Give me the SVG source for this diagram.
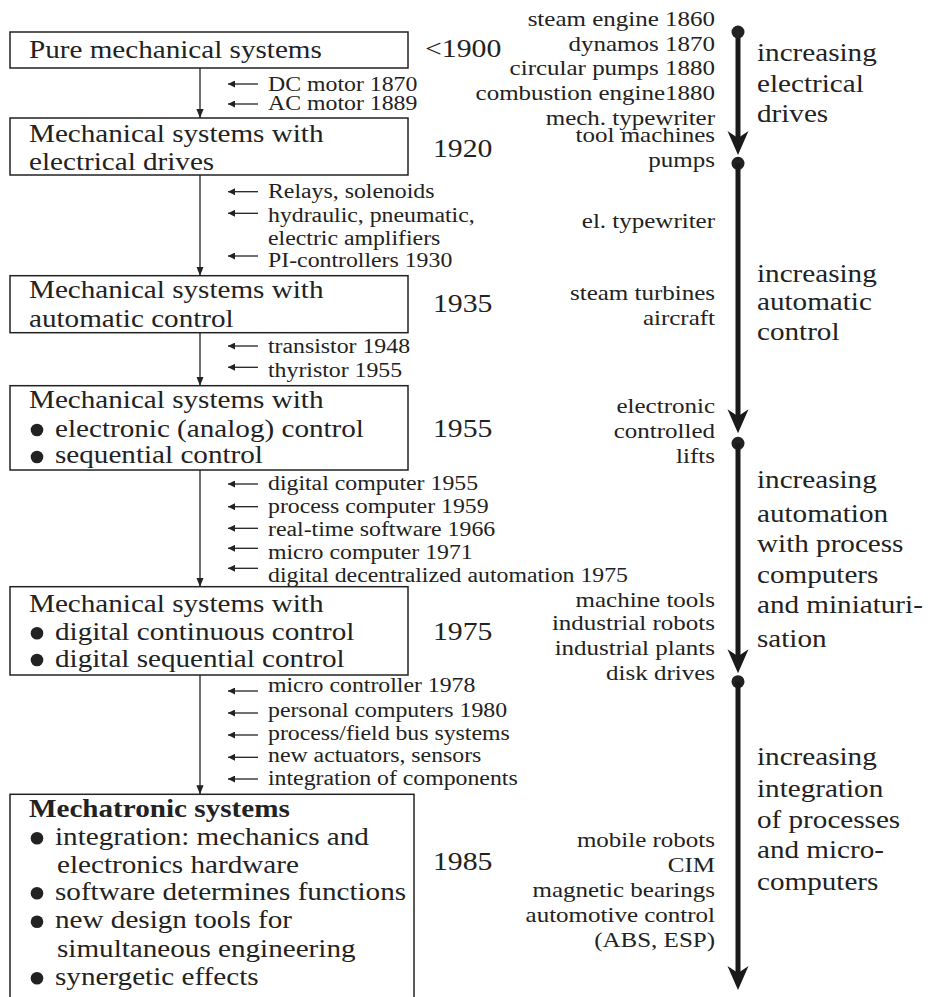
<svg xmlns="http://www.w3.org/2000/svg" width="928" height="997" viewBox="0 0 928 997" font-family="Liberation Serif, Times New Roman, serif">
<defs>
<style>
text{font-family:Liberation Serif, Times New Roman, serif;fill:#222}
.e{text-anchor:end}
.big{font-size:24.5px}
.yr{font-size:25px}
.sm{font-size:20px}
.rs{font-size:21px}
.lab{font-size:24.5px}
.b{font-weight:bold}
.box{fill:none;stroke:#222;stroke-width:1.5}
.dot{fill:#222}
.vline{stroke:#222;stroke-width:1.3;fill:none}
.hline{stroke:#222;stroke-width:1.3;fill:none}
.thick{stroke:#1a1a1a;stroke-width:5;fill:none}
.head{fill:#1a1a1a}
</style>
<marker id="ad" viewBox="0 0 10 10" refX="10" refY="5" markerWidth="9" markerHeight="9" markerUnits="userSpaceOnUse" orient="auto">
<path d="M0,1 L10,5 L0,9 Z" fill="#222"/>
</marker>
<marker id="al" viewBox="0 0 10 10" refX="10" refY="5" markerWidth="10" markerHeight="7" markerUnits="userSpaceOnUse" orient="auto">
<path d="M0,0 L10,5 L0,10 Z" fill="#222"/>
</marker>
</defs>
<rect width="928" height="997" fill="#fff"/>

<g id="connectors">
<line class="vline" x1="200" y1="68" x2="200" y2="118" marker-end="url(#ad)"/>
<line class="vline" x1="200" y1="175" x2="200" y2="275.7" marker-end="url(#ad)"/>
<line class="vline" x1="200" y1="332.7" x2="200" y2="385.7" marker-end="url(#ad)"/>
<line class="vline" x1="200" y1="470" x2="200" y2="586.7" marker-end="url(#ad)"/>
<line class="vline" x1="200" y1="675" x2="200" y2="794.3" marker-end="url(#ad)"/>
<g id="inputs">
<line class="hline" x1="258" y1="84" x2="228" y2="84" marker-end="url(#al)"/>
<line class="hline" x1="258" y1="104" x2="228" y2="104" marker-end="url(#al)"/>
<line class="hline" x1="258" y1="191.7" x2="228" y2="191.7" marker-end="url(#al)"/>
<line class="hline" x1="258" y1="213.3" x2="228" y2="213.3" marker-end="url(#al)"/>
<line class="hline" x1="258" y1="256" x2="228" y2="256" marker-end="url(#al)"/>
<line class="hline" x1="258" y1="346" x2="228" y2="346" marker-end="url(#al)"/>
<line class="hline" x1="258" y1="367.3" x2="228" y2="367.3" marker-end="url(#al)"/>
<line class="hline" x1="258" y1="484" x2="228" y2="484" marker-end="url(#al)"/>
<line class="hline" x1="258" y1="506.7" x2="228" y2="506.7" marker-end="url(#al)"/>
<line class="hline" x1="258" y1="528.3" x2="228" y2="528.3" marker-end="url(#al)"/>
<line class="hline" x1="258" y1="548.3" x2="228" y2="548.3" marker-end="url(#al)"/>
<line class="hline" x1="258" y1="568.3" x2="228" y2="568.3" marker-end="url(#al)"/>
<line class="hline" x1="258" y1="691" x2="228" y2="691" marker-end="url(#al)"/>
<line class="hline" x1="258" y1="713" x2="228" y2="713" marker-end="url(#al)"/>
<line class="hline" x1="258" y1="735" x2="228" y2="735" marker-end="url(#al)"/>
<line class="hline" x1="258" y1="757.3" x2="228" y2="757.3" marker-end="url(#al)"/>
<line class="hline" x1="258" y1="779" x2="228" y2="779" marker-end="url(#al)"/>
</g>
<g id="timeline">
<line class="thick" x1="738" y1="32" x2="738" y2="140"/>
<path class="head" d="M738,155 L727.5,131 L738,138 L748.5,131 Z"/>
<circle class="dot" cx="738" cy="32" r="6.5"/>
<circle class="dot" cx="738" cy="163.3" r="6.5"/>
<line class="thick" x1="738" y1="163.3" x2="738" y2="418"/>
<path class="head" d="M738,433.3 L727.5,409.3 L738,416.3 L748.5,409.3 Z"/>
<circle class="dot" cx="738" cy="443.3" r="6.5"/>
<line class="thick" x1="738" y1="443.3" x2="738" y2="658"/>
<path class="head" d="M738,673.3 L727.5,649.3 L738,656.3 L748.5,649.3 Z"/>
<circle class="dot" cx="738" cy="681.7" r="6.5"/>
<line class="thick" x1="738" y1="681.7" x2="738" y2="975"/>
<path class="head" d="M738,990 L727.5,966 L738,973 L748.5,966 Z"/>
</g>
</g>

<g id="input-labels">
<text class="sm" transform="translate(268 90.7) scale(1.19 1)">DC motor 1870</text>
<text class="sm" transform="translate(268 110) scale(1.19 1)">AC motor 1889</text>
<text class="sm" transform="translate(268 198.3) scale(1.19 1)">Relays, solenoids</text>
<text class="sm" transform="translate(268 221.7) scale(1.19 1)">hydraulic, pneumatic,</text>
<text class="sm" transform="translate(268 245) scale(1.19 1)">electric amplifiers</text>
<text class="sm" transform="translate(268 266.7) scale(1.19 1)">PI-controllers 1930</text>
<text class="sm" transform="translate(268 353.3) scale(1.19 1)">transistor 1948</text>
<text class="sm" transform="translate(268 376.7) scale(1.19 1)">thyristor 1955</text>
<text class="sm" transform="translate(268 490) scale(1.19 1)">digital computer 1955</text>
<text class="sm" transform="translate(268 512.7) scale(1.19 1)">process computer 1959</text>
<text class="sm" transform="translate(268 536) scale(1.19 1)">real-time software 1966</text>
<text class="sm" transform="translate(268 559) scale(1.19 1)">micro computer 1971</text>
<text class="sm" transform="translate(268 581.7) scale(1.19 1)">digital decentralized automation 1975</text>
<text class="sm" transform="translate(268 691.7) scale(1.19 1)">micro controller 1978</text>
<text class="sm" transform="translate(268 716.7) scale(1.19 1)">personal computers 1980</text>
<text class="sm" transform="translate(268 740) scale(1.19 1)">process/field bus systems</text>
<text class="sm" transform="translate(268 761.7) scale(1.19 1)">new actuators, sensors</text>
<text class="sm" transform="translate(268 785) scale(1.19 1)">integration of components</text>
</g>

<g id="node-pure">
<rect class="box" x="10" y="32" width="398" height="36"/>
<text class="big" transform="translate(29 58) scale(1.19 1)">Pure mechanical systems</text>
<text class="yr" transform="translate(425 57) scale(1.19 1)">&lt;1900</text>
</g>

<g id="node-electrical">
<rect class="box" x="10" y="118" width="398" height="57"/>
<text class="big" transform="translate(29 141.7) scale(1.19 1)">Mechanical systems with</text>
<text class="big" transform="translate(29 170) scale(1.19 1)">electrical drives</text>
<text class="yr" transform="translate(433 156.7) scale(1.19 1)">1920</text>
</g>

<g id="node-automatic">
<rect class="box" x="10" y="275.7" width="398" height="57"/>
<text class="big" transform="translate(29 298.3) scale(1.19 1)">Mechanical systems with</text>
<text class="big" transform="translate(29 326.7) scale(1.19 1)">automatic control</text>
<text class="yr" transform="translate(433 311.7) scale(1.19 1)">1935</text>
</g>

<g id="node-analog">
<rect class="box" x="10" y="385.7" width="398" height="84.3"/>
<text class="big" transform="translate(29 408.3) scale(1.19 1)">Mechanical systems with</text>
<circle class="dot" cx="37" cy="430" r="6.3"/>
<text class="big" transform="translate(55 436.7) scale(1.19 1)">electronic (analog) control</text>
<circle class="dot" cx="37" cy="457" r="6.3"/>
<text class="big" transform="translate(55 463.3) scale(1.19 1)">sequential control</text>
<text class="yr" transform="translate(433 436.7) scale(1.19 1)">1955</text>
</g>

<g id="node-digital">
<rect class="box" x="10" y="586.7" width="398" height="88.3"/>
<text class="big" transform="translate(29 611.7) scale(1.19 1)">Mechanical systems with</text>
<circle class="dot" cx="37" cy="633.3" r="6.3"/>
<text class="big" transform="translate(55 640) scale(1.19 1)">digital continuous control</text>
<circle class="dot" cx="37" cy="660" r="6.3"/>
<text class="big" transform="translate(55 666.7) scale(1.19 1)">digital sequential control</text>
<text class="yr" transform="translate(433 640) scale(1.19 1)">1975</text>
</g>

<g id="node-mechatronic">
<rect class="box" x="10" y="794.3" width="404" height="220"/>
<text class="big b" transform="translate(29 816.7) scale(1.19 1)">Mechatronic systems</text>
<circle class="dot" cx="37" cy="838.3" r="6.3"/>
<text class="big" transform="translate(55 845) scale(1.19 1)">integration: mechanics and</text>
<text class="big" transform="translate(57 872.7) scale(1.19 1)">electronics hardware</text>
<circle class="dot" cx="37" cy="893.3" r="6.3"/>
<text class="big" transform="translate(55 900) scale(1.19 1)">software determines functions</text>
<circle class="dot" cx="37" cy="921.7" r="6.3"/>
<text class="big" transform="translate(55 928.3) scale(1.19 1)">new design tools for</text>
<text class="big" transform="translate(57 956.7) scale(1.19 1)">simultaneous engineering</text>
<circle class="dot" cx="37" cy="978.3" r="6.3"/>
<text class="big" transform="translate(55 985) scale(1.19 1)">synergetic effects</text>
<text class="yr" transform="translate(433 870) scale(1.19 1)">1985</text>
</g>

<g id="applications">
<text class="rs e" transform="translate(715 25.7) scale(1.19 1)">steam engine 1860</text>
<text class="rs e" transform="translate(715 50.7) scale(1.19 1)">dynamos 1870</text>
<text class="rs e" transform="translate(715 75) scale(1.19 1)">circular pumps 1880</text>
<text class="rs e" transform="translate(715 100) scale(1.19 1)">combustion engine1880</text>
<text class="rs e" transform="translate(715 125) scale(1.19 1)">mech. typewriter</text>
<text class="rs e" transform="translate(715 141.7) scale(1.19 1)">tool machines</text>
<text class="rs e" transform="translate(715 166.7) scale(1.19 1)">pumps</text>
<text class="rs e" transform="translate(715 228.3) scale(1.19 1)">el. typewriter</text>
<text class="rs e" transform="translate(715 300) scale(1.19 1)">steam turbines</text>
<text class="rs e" transform="translate(715 325) scale(1.19 1)">aircraft</text>
<text class="rs e" transform="translate(715 413.3) scale(1.19 1)">electronic</text>
<text class="rs e" transform="translate(715 438.3) scale(1.19 1)">controlled</text>
<text class="rs e" transform="translate(715 463.3) scale(1.19 1)">lifts</text>
<text class="rs e" transform="translate(715 606.7) scale(1.19 1)">machine tools</text>
<text class="rs e" transform="translate(715 630) scale(1.19 1)">industrial robots</text>
<text class="rs e" transform="translate(715 655) scale(1.19 1)">industrial plants</text>
<text class="rs e" transform="translate(715 680) scale(1.19 1)">disk drives</text>
<text class="rs e" transform="translate(715 846.7) scale(1.19 1)">mobile robots</text>
<text class="rs e" transform="translate(715 871.7) scale(1.19 1)">CIM</text>
<text class="rs e" transform="translate(715 896.7) scale(1.19 1)">magnetic bearings</text>
<text class="rs e" transform="translate(715 921.7) scale(1.19 1)">automotive control</text>
<text class="rs e" transform="translate(715 946.7) scale(1.19 1)">(ABS, ESP)</text>
</g>

<g id="phase-labels">
<text class="lab" transform="translate(757 61) scale(1.19 1)">increasing</text>
<text class="lab" transform="translate(757 91.7) scale(1.19 1)">electrical</text>
<text class="lab" transform="translate(757 121.7) scale(1.19 1)">drives</text>
<text class="lab" transform="translate(757 281.7) scale(1.19 1)">increasing</text>
<text class="lab" transform="translate(757 310) scale(1.19 1)">automatic</text>
<text class="lab" transform="translate(757 340) scale(1.19 1)">control</text>
<text class="lab" transform="translate(757 488.3) scale(1.19 1)">increasing</text>
<text class="lab" transform="translate(757 521.7) scale(1.19 1)">automation</text>
<text class="lab" transform="translate(757 551.7) scale(1.19 1)">with process</text>
<text class="lab" transform="translate(757 583.3) scale(1.19 1)">computers</text>
<text class="lab" transform="translate(757 613.3) scale(1.19 1)">and miniaturi-</text>
<text class="lab" transform="translate(757 646.7) scale(1.19 1)">sation</text>
<text class="lab" transform="translate(757 765) scale(1.19 1)">increasing</text>
<text class="lab" transform="translate(757 796.7) scale(1.19 1)">integration</text>
<text class="lab" transform="translate(757 828.3) scale(1.19 1)">of processes</text>
<text class="lab" transform="translate(757 858.3) scale(1.19 1)">and micro-</text>
<text class="lab" transform="translate(757 890) scale(1.19 1)">computers</text>
</g>
</svg>
